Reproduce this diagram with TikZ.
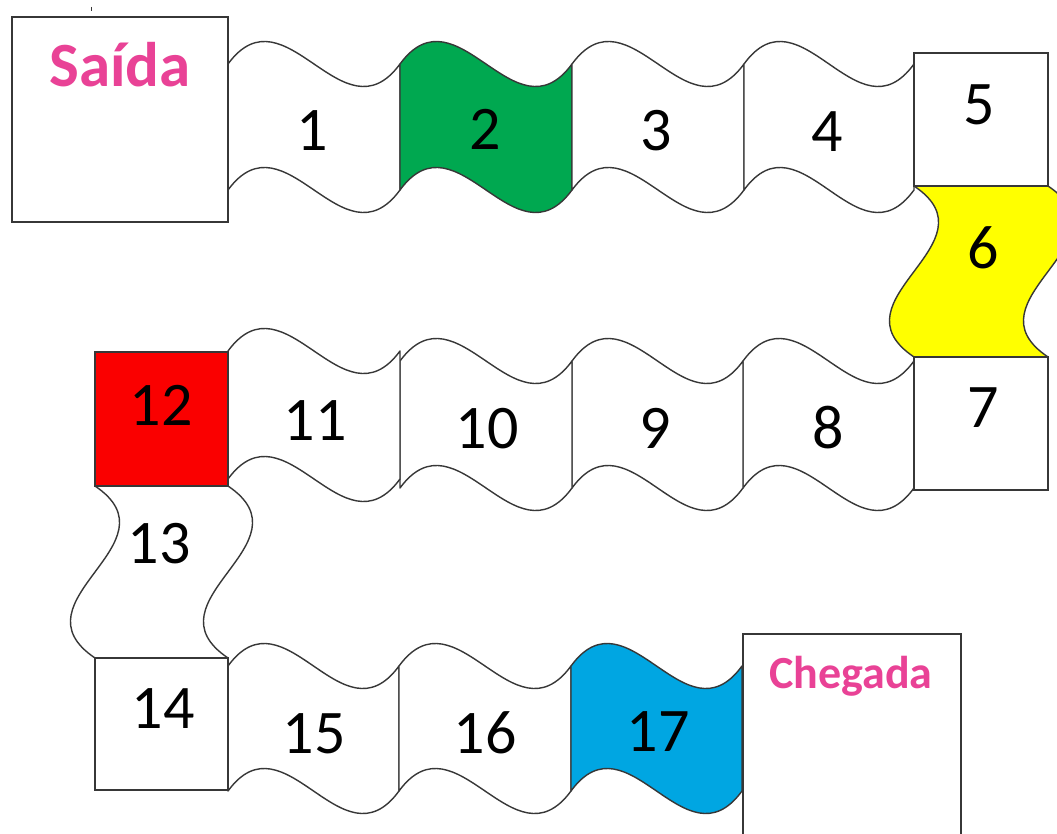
\documentclass[tikz,border=0pt]{standalone}
\usepackage{fontspec}
\setmainfont{Carlito}
\definecolor{pinkt}{RGB}{233,66,150}
\definecolor{tgreen}{RGB}{0,168,80}
\definecolor{tblue}{RGB}{0,166,226}
\definecolor{tyellow}{RGB}{255,255,0}
\definecolor{tred}{RGB}{250,0,0}
\definecolor{edgec}{RGB}{55,55,55}
\newcommand\boardH[5]{%
\pgfmathsetmacro\bxa{#1+(#2-#1)/3}%
\pgfmathsetmacro\bxb{#1+2*(#2-#1)/3}%
\filldraw[tilest,fill=#5] (#1,#3) .. controls (\bxa,#3-78) and (\bxb,#3+78) .. (#2,#3) -- (#2,#4) .. controls (\bxb,#4+78) and (\bxa,#4-78) .. (#1,#4) -- cycle;}
\newcommand\boardV[5]{%
\pgfmathsetmacro\bya{#3+(#4-#3)/3}%
\pgfmathsetmacro\byb{#3+2*(#4-#3)/3}%
\filldraw[tilest,fill=#5] (#1,#3) -- (#2,#3) .. controls (#2+85,\bya) and (#2-85,\byb) .. (#2,#4) -- (#1,#4) .. controls (#1-85,\byb) and (#1+85,\bya) .. (#1,#3) -- cycle;}
\begin{document}
\begin{tikzpicture}[x=1pt,y=-1pt,
  tilest/.style={draw=edgec,line width=1.4pt,line join=round},
  num/.style={font=\fontsize{62}{62}\selectfont,text=black,anchor=base,inner sep=0pt},
  boxst/.style={draw=edgec,line width=1.4pt,fill=white,rectangle,inner sep=0pt,outer sep=0pt,anchor=north west},
  lbl/.style={font=\bfseries,text=pinkt,anchor=base,inner sep=0pt}]
\useasboundingbox (0,0) rectangle (1057,834);
\fill[white] (0,0) rectangle (1057,834);
\draw[edgec,line width=0.8pt] (91,7) -- (91,11);
% row 1
\boardH{228}{400}{64}{190}{white}
\boardH{400}{572}{64}{190}{tgreen}
\boardH{572}{744}{64}{190}{white}
\boardH{744}{914}{64}{190}{white}
% 6
\boardV{914}{1048}{186}{357}{tyellow}
% row 2
\boardH{743}{914}{361}{488}{white}
\boardH{572}{743}{361}{488}{white}
\boardH{400}{572}{361}{488}{white}
\boardH{228}{400}{351}{479}{white}
% 13
\boardV{95}{228}{486}{658}{white}
% row 3
\boardH{228}{399}{666}{791}{white}
\boardH{399}{571}{666}{791}{white}
\boardH{571}{742}{666}{791}{tblue}
% boxes
\node[boxst,minimum width=216pt,minimum height=205pt] (saida) at (12,17) {};
\node[boxst,minimum width=134pt,minimum height=133pt] (b5) at (914,53) {};
\node[boxst,minimum width=134pt,minimum height=133pt] (b7) at (914,357) {};
\node[boxst,fill=tred,minimum width=133pt,minimum height=134pt] (b12) at (95,352) {};
\node[boxst,minimum width=133pt,minimum height=132pt] (b14) at (95,658) {};
\node[boxst,minimum width=218pt,minimum height=230pt] (cheg) at (743,634) {};
% labels
\node[lbl,font=\bfseries\fontsize{63}{63}\selectfont] (tsaida) at (120,87) {Saída};
\node[lbl,font=\bfseries\fontsize{46}{46}\selectfont] (tcheg) at (851,688) {Chegada};
\node[num] (n1) at (312,151) {1};
\node[num] (n2) at (485,150) {2};
\node[num] (n3) at (656,151) {3};
\node[num] (n4) at (827,152) {4};
\node[num] (n5) at (979,125) {5};
\node[num] (n6) at (983,269) {6};
\node[num] (n7) at (983,427) {7};
\node[num] (n8) at (828,448) {8};
\node[num] (n9) at (655,448) {9};
\node[num] (n10) at (487,448) {10};
\node[num] (n11) at (315,440) {11};
\node[num] (n12) at (161,425) {12};
\node[num] (n13) at (159,563) {13};
\node[num] (n14) at (163,728) {14};
\node[num] (n15) at (314,753) {15};
\node[num] (n16) at (485,753) {16};
\node[num] (n17) at (658,751) {17};
\end{tikzpicture}
\end{document}
